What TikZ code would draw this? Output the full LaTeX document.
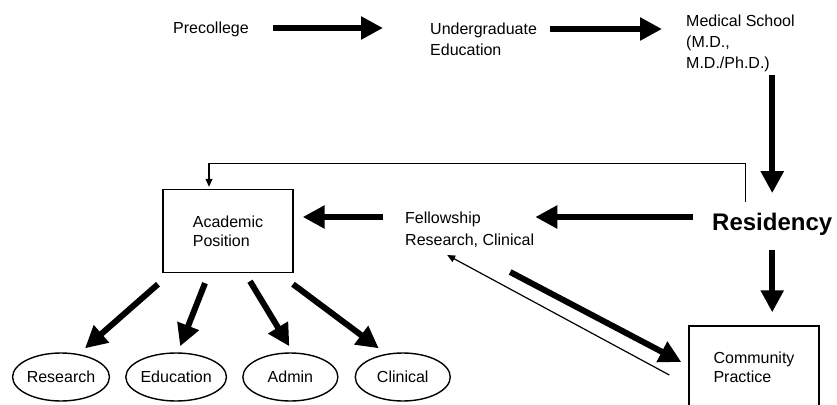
\documentclass[tikz,border=0pt]{standalone}
\usepackage{fontspec}
\setmainfont{Liberation Sans}
\usetikzlibrary{arrows.meta,calc,positioning,shapes.geometric}

\begin{document}
\begin{tikzpicture}[x=1pt,y=-1pt,>=Latex,font=\fontsize{16}{21}\selectfont]
\tikzstyle{lbl}=[inner sep=0pt,align=left,anchor=west]
\tikzstyle{box}=[draw,line width=1.4pt,minimum width=130pt,minimum height=83pt,align=left]
\tikzstyle{oval}=[draw,ellipse,line width=1.4pt,minimum width=95pt,minimum height=48pt,inner sep=0pt]
\tikzstyle{fat}=[line width=6pt,-{Triangle[length=22pt,width=22pt]}]
\tikzstyle{slim}=[line width=1.2pt,-{Triangle[length=8pt,width=7pt]}]
\useasboundingbox (0,0) rectangle (837,404);
% career stages
\node[lbl] (pre) at (173,29.7) {Precollege};
\node[lbl] (ug) at (430,39.7) {Undergraduate\\Education};
\node[lbl] (med) at (686,43.7) {Medical School\\(M.D.,\\M.D./Ph.D.)};
\node[lbl,font=\fontsize{24}{28}\selectfont\bfseries] (res) at (712,224.5) {Residency};
\node[lbl,font=\fontsize{16}{22}\selectfont] (fel) at (405,229.7) {Fellowship\\Research, Clinical};
\node[box,font=\fontsize{16}{19}\selectfont] (acad) at (228,231) {Academic\\Position};
\node[box,font=\fontsize{16}{19}\selectfont] (comm) at (754,367.5) {Community\\Practice};
% roles
\node[oval] (rsch) at (61,377) {Research};
\node[oval,right=15pt of rsch] (edu) {Education};
\node[oval,right=15pt of edu] (adm) {Admin};
\node[oval,right=16pt of adm] (clin) {Clinical};
% main path
\draw[fat,shorten <=24pt,shorten >=47pt] ([yshift=1.7pt]pre.east) -- ([yshift=1.7pt]pre.east -| ug.west);
\draw[fat,shorten <=13pt,shorten >=24pt] ([yshift=10.7pt]ug.east) -- ([yshift=10.7pt]ug.east -| med.west);
\draw[fat,shorten <=3pt,shorten >=20pt] (res.north |- med.south) -- (res.north);
\draw[fat,shorten <=19pt,shorten >=1pt] ([yshift=7.5pt]res.west) -- ([yshift=7.5pt]res.west -| fel.east);
\draw[fat,shorten <=22pt,shorten >=9pt] ([yshift=12.7pt]fel.west) -- ([yshift=12.7pt]fel.west -| acad.east);
\draw[fat,shorten <=14pt,shorten >=13pt] (res.south) -- (res.south |- comm.north);
\draw[slim,shorten <=11pt,shorten >=2pt] ([xshift=-27pt]res.north) |- ([xshift=-19pt,yshift=25pt]acad.north) -- ([xshift=-19pt]acad.north);
\draw[fat] ([xshift=40.5pt,yshift=-24.3pt]fel.south) -- ([xshift=-7pt,yshift=5.5pt]comm.west);
\draw[slim] ([xshift=-19pt,yshift=-7.5pt]comm.west) -- ([xshift=-22.5pt,yshift=-7.3pt]fel.south);
% academic roles
\foreach \tx/\ty/\tgt/\hx/\hy in {-70/-11/rsch/24/4,-23/-10/edu/4/6,22/-8/adm/-1/6,65/-11/clin/-24/4}
  \draw[fat] ([xshift=\tx pt,yshift=\ty pt]acad.south) -- ([xshift=\hx pt,yshift=\hy pt]\tgt.north);
\end{tikzpicture}
\end{document}
